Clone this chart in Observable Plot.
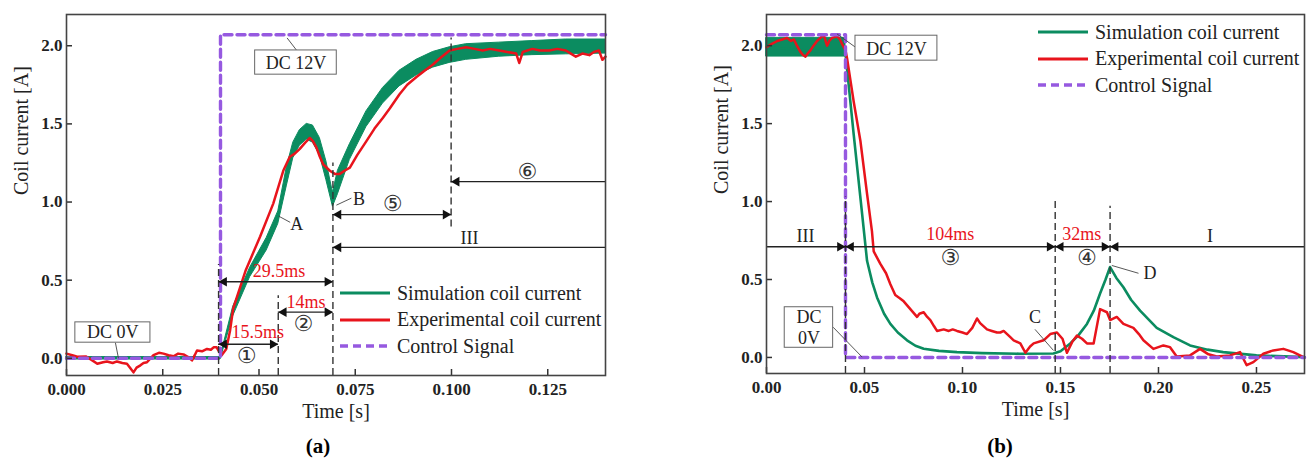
<!DOCTYPE html>
<html><head><meta charset="utf-8">
<script src="https://cdn.jsdelivr.net/npm/d3@7"></script>
<script src="https://cdn.jsdelivr.net/npm/@observablehq/plot@0.6"></script>
<style>
body{margin:0;background:#fff;}
#wrap{position:relative;width:1307px;height:462px;background:#fff;font-family:"Liberation Serif","DejaVu Serif",serif;}
.pan{position:absolute;top:0;}
.legend{position:absolute;font-size:20px;color:#222;}
.legend .row{display:flex;align-items:center;height:26.5px;white-space:nowrap;}
.legend svg{margin-right:7px;}
.cap{position:absolute;top:434px;font-size:21px;font-weight:bold;transform:translateX(-50%);}
</style></head>
<body>
<div id="wrap">
  <div id="pa" class="pan" style="left:0px"></div>
  <div id="pb" class="pan" style="left:700px"></div>
  <div id="la" class="legend" style="left:340px;top:280px"></div>
  <div id="lb" class="legend" style="left:1038px;top:19px"></div>
  <div class="cap" style="left:318px">(a)</div>
  <div class="cap" style="left:1000px">(b)</div>
</div>
<script>
// ---------- data ----------
const seriesNames = ["Simulation coil current", "Experimental coil current", "Control Signal"];
const xLabel = "Time [s]";
const yLabel = "Coil current [A]";
const aXTicks = [0, 0.025, 0.05, 0.075, 0.1, 0.125];
const bXTicks = [0, 0.05, 0.1, 0.15, 0.2, 0.25];
const yTicks = [0, 0.5, 1.0, 1.5, 2.0];

// Panel (a) control signal
const aCtrlT = [0, 0.04, 0.04, 0.14];
const aCtrlV = [0, 0, 2.07, 2.07];
// Panel (a) simulation (ripple band: low / high envelope)
const aSimT  = [0, 0.040, 0.0433, 0.0477, 0.052, 0.055, 0.0572, 0.0589, 0.0606, 0.0624, 0.064, 0.0658, 0.0675, 0.0692, 0.0705, 0.0736, 0.0779, 0.0822, 0.0865, 0.0909, 0.0952, 0.0995, 0.1038, 0.1124, 0.121, 0.1297, 0.14];
const aSimLo = [-0.008, -0.008, 0.27, 0.52, 0.69, 0.86, 1.10, 1.28, 1.36, 1.40, 1.38, 1.30, 1.14, 0.97, 1.05, 1.27, 1.48, 1.63, 1.74, 1.81, 1.86, 1.89, 1.91, 1.93, 1.94, 1.945, 1.95];
const aSimHi = [0.008, 0.008, 0.33, 0.58, 0.77, 0.94, 1.22, 1.38, 1.46, 1.50, 1.49, 1.41, 1.26, 1.06, 1.20, 1.37, 1.58, 1.73, 1.84, 1.91, 1.96, 1.99, 2.01, 2.02, 2.03, 2.04, 2.04];
// Panel (a) experiment
const aExpT = [0.000,0.0015,0.0028,0.005,0.0065,0.008,0.0095,0.0105,0.012,0.0131,0.0145,0.0157,0.0165,0.0174,0.0182,0.0192,0.020,0.0209,0.0218,0.0226,0.024,0.0252,0.0265,0.0278,0.029,0.0304,0.0315,0.0326,0.0333,0.0339,0.0352,0.0365,0.0375,0.0382,0.039,0.0397,0.0403,0.0415,0.0425,0.0433,0.0465,0.0503,0.0537,0.0563,0.058,0.0593,0.0606,0.062,0.0632,0.064,0.0649,0.0658,0.0667,0.0684,0.0697,0.071,0.0722,0.0736,0.0755,0.0779,0.080,0.0822,0.084,0.0865,0.0885,0.0909,0.093,0.0952,0.097,0.0995,0.1015,0.1038,0.106,0.1081,0.110,0.1124,0.1145,0.1168,0.1176,0.1185,0.121,0.123,0.1254,0.1275,0.1297,0.131,0.1323,0.134,0.1358,0.137,0.1383,0.1392,0.14];
const aExpV = [0.03,0.02,0.01,0.012,-0.01,-0.035,-0.025,-0.02,-0.03,-0.02,-0.03,-0.035,-0.06,-0.09,-0.06,-0.045,-0.03,-0.025,0.0,0.02,0.035,0.03,0.02,0.013,0.03,0.025,0.01,-0.013,0.02,0.05,0.045,0.06,0.055,0.07,0.07,0.04,0.02,0.06,0.18,0.32,0.56,0.78,0.99,1.20,1.29,1.31,1.34,1.38,1.41,1.39,1.35,1.29,1.24,1.20,1.18,1.18,1.20,1.22,1.30,1.39,1.47,1.54,1.60,1.69,1.75,1.80,1.84,1.88,1.92,1.97,1.98,1.99,1.98,1.97,1.98,1.97,1.96,1.95,1.89,1.96,1.98,1.97,1.97,1.98,1.97,1.95,1.93,1.95,1.94,1.96,1.97,1.91,1.93];

// Panel (b) control signal
const bCtrlT = [0, 0.0403, 0.0403, 0.2745];
const bCtrlV = [2.07, 2.07, 0, 0];
// Panel (b) simulation ripple band before switch-off
const bBandT  = [0, 0.0403];
const bBandLo = [1.93, 1.93];
const bBandHi = [2.05, 2.05];
// Panel (b) simulation
const bSimT = [0,0.0403,0.0445,0.0488,0.0513,0.054,0.0564,0.060,0.0632,0.067,0.0717,0.076,0.0802,0.088,0.0972,0.110,0.129,0.1464,0.150,0.155,0.159,0.1635,0.167,0.1702,0.173,0.1753,0.1785,0.1821,0.186,0.1906,0.1991,0.2076,0.2161,0.225,0.233,0.25,0.2745];
const bSimV = [1.99,1.95,1.43,0.92,0.62,0.48,0.385,0.28,0.215,0.16,0.11,0.075,0.056,0.042,0.034,0.028,0.024,0.025,0.04,0.09,0.14,0.215,0.30,0.41,0.50,0.58,0.51,0.45,0.37,0.30,0.19,0.13,0.077,0.05,0.034,0.013,0.002];
// Panel (b) experiment
const bExpT = [0.000,0.0025,0.0055,0.008,0.0105,0.0125,0.014,0.0155,0.0173,0.0186,0.0199,0.021,0.0224,0.024,0.0258,0.0275,0.0292,0.0309,0.032,0.0335,0.036,0.0375,0.0386,0.0403,0.0411,0.0445,0.0479,0.0513,0.0538,0.0547,0.0581,0.061,0.0632,0.0657,0.068,0.070,0.0734,0.0768,0.078,0.0802,0.082,0.0836,0.0855,0.087,0.0904,0.093,0.095,0.0972,0.100,0.1023,0.105,0.1074,0.109,0.1125,0.115,0.1176,0.1193,0.121,0.1244,0.1261,0.1295,0.1321,0.1345,0.1363,0.1414,0.1448,0.1482,0.151,0.1533,0.156,0.1584,0.161,0.1635,0.1669,0.1702,0.1719,0.1737,0.1753,0.1787,0.1821,0.1872,0.190,0.1923,0.1974,0.2025,0.2059,0.2093,0.2161,0.2212,0.2255,0.2297,0.2365,0.2416,0.245,0.2484,0.2535,0.2586,0.2637,0.2688,0.274];
const bExpV = [1.99,2.01,2.03,2.04,2.05,2.03,2.04,2.00,1.96,1.94,1.93,1.95,1.97,2.00,2.03,2.05,2.07,2.00,2.03,2.05,2.06,2.04,2.01,1.97,1.92,1.64,1.39,1.05,0.81,0.68,0.60,0.54,0.47,0.40,0.38,0.36,0.31,0.26,0.28,0.29,0.26,0.24,0.20,0.17,0.18,0.17,0.18,0.17,0.16,0.15,0.19,0.25,0.22,0.18,0.17,0.16,0.16,0.17,0.13,0.11,0.09,0.03,0.07,0.09,0.11,0.15,0.16,0.12,0.03,0.10,0.14,0.12,0.09,0.09,0.31,0.30,0.29,0.24,0.26,0.215,0.19,0.15,0.11,0.055,0.077,0.066,0.006,0.013,0.055,0.02,0.006,0.013,0.034,-0.05,-0.03,0.024,0.045,0.055,0.034,0.002];

// ---------- annotations ----------
const aDashed = [{x:0.0395,y1:-0.11,y2:0.6},{x:0.055,y1:-0.11,y2:0.40},{x:0.0692,y1:-0.11,y2:1.25},{x:0.0999,y1:0.84,y2:2.05}];
const aArrows = [
  {x1:0.0395,x2:0.0692,y:0.49,head:"both"},
  {x1:0.055,x2:0.0692,y:0.295,head:"both"},
  {x1:0.0395,x2:0.055,y:0.09,head:"both"},
  {x1:0.0692,x2:0.0999,y:0.92,head:"both"},
  {x1:0.0999,x2:0.14,y:1.13,head:"start"},
  {x1:0.0692,x2:0.14,y:0.71,head:"start"}
];
const aRedText = [{x:0.0552,y:0.56,t:"29.5ms"},{x:0.0622,y:0.36,t:"14ms"},{x:0.0497,y:0.168,t:"15.5ms"}];
const aText = [{x:0.1047,y:0.77,t:"III"},{x:0.0598,y:0.86,t:"A"},{x:0.076,y:1.02,t:"B"},{x:0.0596,y:1.89,t:"DC 12V"},{x:0.012,y:0.166,t:"DC 0V"}];
const aCircled = [{x:0.0468,y:0.013,t:"①"},{x:0.0615,y:0.22,t:"②"},{x:0.0847,y:0.99,t:"⑤"},{x:0.1197,y:1.19,t:"⑥"}];
const aBoxes = [{x1:0.049,x2:0.0702,y1:1.815,y2:1.97},{x1:0.0023,x2:0.0218,y1:0.10,y2:0.23}];
const aLeaders = [{x1:0.0573,y1:2.05,x2:0.0598,y2:1.97},{x1:0.0127,y1:0.10,x2:0.0135,y2:0.0},{x1:0.0551,y1:0.91,x2:0.0581,y2:0.87},{x1:0.0701,y1:0.98,x2:0.0740,y2:1.025}];

const bDashed = [{x:0.0403,y1:-0.103,y2:1.03},{x:0.1473,y1:-0.103,y2:1.0},{x:0.1753,y1:-0.103,y2:0.97}];
const bArrows = [{x1:0,x2:0.2745,y:0.71,head:"none"}];
const bTies = [{x:0.0403,y:0.71},{x:0.1473,y:0.71},{x:0.1753,y:0.71}];
const bRedText = [{x:0.0938,y:0.79,t:"104ms"},{x:0.1609,y:0.79,t:"32ms"}];
const bText = [{x:0.0199,y:0.78,t:"III"},{x:0.2263,y:0.78,t:"I"},{x:0.137,y:0.26,t:"C"},{x:0.1957,y:0.54,t:"D"},{x:0.0663,y:1.98,t:"DC 12V"},{x:0.0217,y:0.256,t:"DC"},{x:0.0217,y:0.122,t:"0V"}];
const bCircled = [{x:0.0938,y:0.64,t:"③"},{x:0.1635,y:0.64,t:"④"}];
const bBoxes = [{x1:0.0454,x2:0.0872,y1:1.904,y2:2.064},{x1:0.0093,x2:0.034,y1:0.062,y2:0.322}];
const bLeaders = [{x1:0.036,y1:2.075,x2:0.0454,y2:1.99},{x1:0.034,y1:0.194,x2:0.0488,y2:0.002},{x1:0.137,y1:0.18,x2:0.1464,y2:0.045},{x1:0.1762,y1:0.59,x2:0.1898,y2:0.54}];

// ---------- styles ----------
const GREEN = "#0b8c60", RED = "#e8141c", PURPLE = "#9659e0", INK = "#333", FONT = "Liberation Serif, DejaVu Serif, serif";

const zip2 = (t, v) => t.map((x, i) => ({x, y: v[i]}));
const zip3 = (t, lo, hi) => t.map((x, i) => ({x, lo: lo[i], hi: hi[i]}));

function panel(o) {
  const fw = o.width - o.mL - o.mR, fh = o.height - o.mT - o.mB;
  const rightHeads = [], leftHeads = [];
  o.arrows.forEach(a => {
    if (a.head === "both") { rightHeads.push({x:a.x2,y:a.y}); leftHeads.push({x:a.x1,y:a.y}); }
    if (a.head === "start") leftHeads.push({x:a.x1,y:a.y});
  });
  (o.ties || []).forEach(t => { rightHeads.push(t); leftHeads.push(t); });
  return Plot.plot({
    width: o.width, height: o.height,
    marginLeft: o.mL, marginRight: o.mR, marginTop: o.mT, marginBottom: o.mB,
    style: {fontFamily: FONT, background: "transparent", overflow: "visible"},
    x: {domain: o.xDom},
    y: {domain: o.yDom},
    marks: [
      Plot.areaY(o.band, {x: "x", y1: "lo", y2: "hi", fill: GREEN, stroke: GREEN, strokeWidth: 1, curve: "linear"}),
      o.simLine ? Plot.line(o.simLine, {x: "x", y: "y", stroke: GREEN, strokeWidth: 2.6}) : null,
      Plot.line(o.exp, {x: "x", y: "y", stroke: RED, strokeWidth: 2.5, strokeLinejoin: "round"}),
      Plot.line(o.ctrl, {x: "x", y: "y", stroke: PURPLE, strokeWidth: 3.4, strokeDasharray: "8,5"}),
      Plot.ruleX(o.dashed, {x: "x", y1: "y1", y2: "y2", stroke: INK, strokeWidth: 1.4, strokeDasharray: "7,4"}),
      Plot.ruleY(o.arrows, {y: "y", x1: "x1", x2: "x2", stroke: "#222", strokeWidth: 1.3}),
      Plot.dot(rightHeads, {x: "x", y: "y", symbol: "triangle", rotate: 90, r: 3.6, fill: "#111", dx: -5.5}),
      Plot.dot(leftHeads, {x: "x", y: "y", symbol: "triangle", rotate: -90, r: 3.6, fill: "#111", dx: 5.5}),
      Plot.link(o.leaders, {x1: "x1", y1: "y1", x2: "x2", y2: "y2", stroke: "#444", strokeWidth: 0.9}),
      Plot.rect(o.boxes, {x1: "x1", x2: "x2", y1: "y1", y2: "y2", fill: "white", stroke: "#666", strokeWidth: 1}),
      Plot.text(o.redText, {x: "x", y: "y", text: "t", fill: RED, fontSize: 18, fontFamily: FONT}),
      Plot.text(o.text, {x: "x", y: "y", text: "t", fill: "#222", fontSize: 18, fontFamily: FONT}),
      Plot.text(o.circled, {x: "x", y: "y", text: "t", fill: "#333", fontSize: 22, fontFamily: "DejaVu Sans, Noto Sans CJK SC, sans-serif"}),
      Plot.ruleX(o.xTicks, {x: d => d, insetTop: fh - 6, stroke: INK, strokeWidth: 1.5}),
      Plot.ruleY(yTicks, {y: d => d, insetRight: fw - 6, stroke: INK, strokeWidth: 1.5}),
      Plot.axisX({ticks: o.xTicks, tickFormat: d3.format(o.xFmt), tickSize: 0, tickPadding: 7, fontSize: 17, fontWeight: "bold", fill: "#222", label: null}),
      Plot.axisY({ticks: yTicks, tickFormat: d3.format(".1f"), tickSize: 0, tickPadding: 4, fontSize: 17, fontWeight: "bold", fill: "#222", label: null}),
      Plot.text([xLabel], {text: d => d, frameAnchor: "bottom", dy: 42, fontSize: 20, fontFamily: FONT, fill: "#222"}),
      Plot.text([yLabel], {text: d => d, frameAnchor: "left", dx: -45, rotate: -90, fontSize: 20, fontFamily: FONT, fill: "#222"}),
      Plot.frame({stroke: "#444", strokeWidth: 1.6})
    ]
  });
}

document.getElementById("pa").append(panel({
  width: 653, height: 425, mL: 66, mR: 48, mT: 14, mB: 50,
  xDom: [0, 0.14], yDom: [-0.11, 2.2], xTicks: aXTicks, xFmt: ".3f",
  band: zip3(aSimT, aSimLo, aSimHi), simLine: null,
  exp: zip2(aExpT, aExpV), ctrl: zip2(aCtrlT, aCtrlV),
  dashed: aDashed, arrows: aArrows, ties: [],
  redText: aRedText, text: aText, circled: aCircled, boxes: aBoxes, leaders: aLeaders
}));
document.getElementById("pb").append(panel({
  width: 607, height: 425, mL: 66, mR: 3, mT: 14, mB: 52,
  xDom: [0, 0.2745], yDom: [-0.103, 2.2], xTicks: bXTicks, xFmt: ".2f",
  band: zip3(bBandT, bBandLo, bBandHi), simLine: zip2(bSimT, bSimV),
  exp: zip2(bExpT, bExpV), ctrl: zip2(bCtrlT, bCtrlV),
  dashed: bDashed, arrows: bArrows, ties: bTies,
  redText: bRedText, text: bText, circled: bCircled, boxes: bBoxes, leaders: bLeaders
}));

// legends
const swatch = (i) => {
  const c = [GREEN, RED, PURPLE][i];
  const dash = i === 2 ? 'stroke-dasharray="8,5"' : '';
  const sw = i === 2 ? 3.6 : 3;
  return `<svg width="50" height="6"><line x1="0" y1="3" x2="50" y2="3" stroke="${c}" stroke-width="${sw}" ${dash}/></svg>`;
};
for (const id of ["la", "lb"]) {
  document.getElementById(id).innerHTML = seriesNames.map((n, i) => `<div class="row">${swatch(i)}<span>${n}</span></div>`).join("");
}
</script>
</body></html>
